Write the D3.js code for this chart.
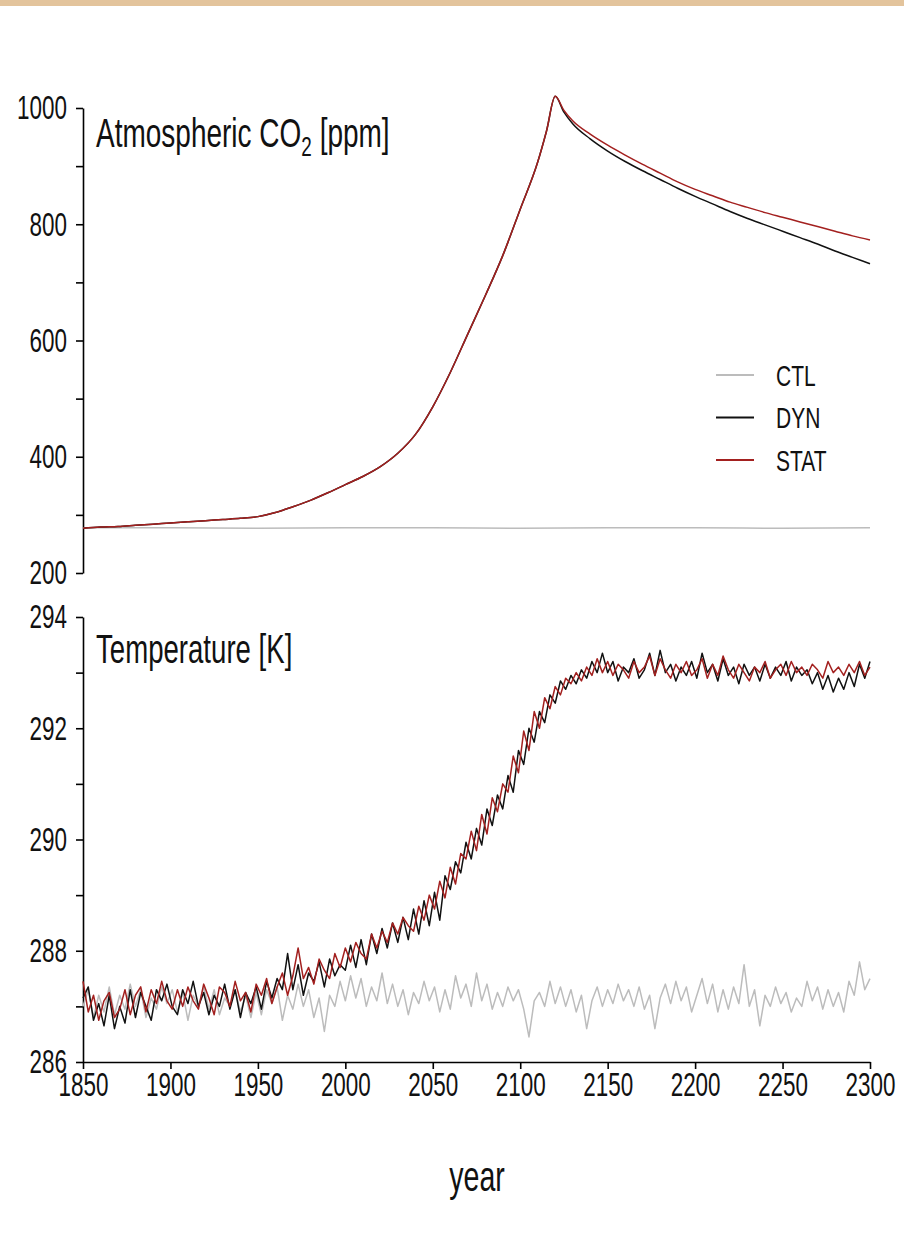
<!DOCTYPE html>
<html lang="en">
<head>
    <meta charset="UTF-8">
    <title>CO2 and Temperature</title>
    <script src="https://d3js.org/d3.v7.min.js"></script>
    <style>
        body { margin: 0; background: #fff; }
        text { font-family: "Liberation Sans", Arial, sans-serif; fill: #111; }
        .axis path, .axis line { stroke: #000; stroke-width: 1.6px; }
        .series { fill: none; stroke-width: 1.5px; stroke-linejoin: round; }
    </style>
</head>
<body>
<script>
    var width = 904, height = 1233;

    // series names / colours
    var seriesNames = ["CTL", "DYN", "STAT"];
    var seriesColors = ["#bcbcbc", "#111111", "#a3201f"];

    // atmospheric CO2 [ppm]
    var co2Years = [1850, 1860, 1870, 1880, 1890, 1900, 1910, 1920, 1930, 1940,
                    1950, 1960, 1970, 1980, 1990, 2000, 2010, 2020, 2030, 2040,
                    2050, 2060, 2070, 2080, 2090, 2100, 2110, 2115, 2120, 2125, 2130,
                    2140, 2150, 2160, 2170, 2180, 2190, 2200, 2210, 2220, 2230,
                    2240, 2250, 2260, 2270, 2280, 2290, 2300];
    var co2Dyn  = [277, 279, 280, 282, 284, 286, 288, 290, 292, 294,
                   297, 304, 314, 325, 338, 352, 366, 383, 406, 438,
                   486, 545, 611, 677, 746, 826, 907, 960, 1020, 993, 973,
                   947, 926, 908, 892, 877, 862, 848, 835, 822, 810,
                   799, 788, 777, 766, 754, 743, 732];
    var co2Stat = [277, 279, 280, 282, 284, 286, 288, 290, 292, 294,
                   297, 304, 314, 325, 338, 352, 366, 383, 406, 438,
                   486, 545, 611, 677, 746, 826, 907, 960, 1020, 996, 978,
                   955, 936, 919, 903, 888, 873, 860, 849, 838, 829,
                   820, 812, 804, 796, 788, 780, 773];
    var co2CtlYears = [1850, 1900, 1950, 2000, 2050, 2100, 2150, 2200, 2250, 2300];
    var co2Ctl = [278, 278, 277, 278, 278, 277, 278, 278, 277, 278];

    // temperature [K], every 3rd year 1850..2300
    var tempYears = d3.range(1850, 2301, 3);
    var tempCtl = [
        287.0, 287.3, 286.8, 287.2, 286.9, 287.35, 286.85, 287.2, 286.95, 287.4,
        287.0, 287.3, 286.8, 287.15, 286.95, 287.35, 287.05, 287.3, 286.9, 287.25,
        286.75, 287.2, 287.0, 287.35, 286.95, 287.3, 286.85, 287.15, 287.0, 287.3,
        286.9, 287.2, 286.8, 287.25, 286.85, 287.3, 287.05, 287.35, 286.75, 287.2,
        286.95, 287.4, 287.0, 287.3, 286.8, 287.15, 286.55, 287.2, 287.0, 287.45,
        287.1, 287.55, 287.15, 287.5, 287.0, 287.35, 287.1, 287.6, 287.05, 287.4,
        287.0, 287.3, 286.85, 287.25, 287.05, 287.45, 287.1, 287.35, 286.9, 287.3,
        286.95, 287.55, 287.15, 287.4, 287.0, 287.6, 287.1, 287.4, 286.95, 287.25,
        287.0, 287.35, 287.1, 287.3, 286.95, 286.45, 287.1, 287.25, 287.0, 287.45,
        287.05, 287.35, 287.0, 287.3, 286.9, 287.2, 286.6, 287.1, 287.35, 287.0,
        287.3, 287.05, 287.4, 287.1, 287.3, 287.0, 287.35, 286.95, 287.2, 286.6,
        287.15, 287.4, 287.05, 287.45, 287.1, 287.35, 286.9, 287.2, 287.5, 287.05,
        287.4, 286.9, 287.3, 286.95, 287.35, 287.05, 287.75, 287.0, 287.3, 286.65,
        287.2, 287.0, 287.35, 287.05, 287.25, 286.9, 287.15, 287.0, 287.45, 287.1,
        287.35, 286.95, 287.3, 287.0, 287.25, 286.9, 287.45, 287.2, 287.8, 287.3,
        287.5
    ];
    var tempDyn = [
        287.15, 287.35, 286.75, 287.05, 286.65, 287.2, 286.6, 287.0, 286.7, 287.3,
        286.8, 287.25, 287.0, 286.75, 287.3, 287.1, 287.4, 287.0, 286.85, 287.3,
        287.05, 287.45, 287.0, 287.25, 286.85, 287.2, 287.0, 287.4, 286.95, 287.3,
        286.8, 287.25, 287.05, 287.35, 286.95, 287.45, 287.15, 287.5, 287.3, 287.95,
        287.3, 287.75, 287.2, 287.6, 287.45, 287.8, 287.35, 287.85, 287.55, 287.75,
        287.65, 288.1, 287.7, 288.2, 287.75, 288.3, 287.95, 288.4, 288.05, 288.5,
        288.15, 288.6, 288.2, 288.75, 288.3, 288.9, 288.45, 289.05, 288.55, 289.35,
        289.1, 289.6, 289.4, 289.95, 289.65, 290.2, 289.9, 290.55, 290.25, 290.8,
        290.55, 291.15, 290.85, 291.6, 291.35, 292.0, 291.75, 292.3, 292.1, 292.6,
        292.45, 292.85, 292.7, 292.95, 292.8, 293.05, 292.9, 293.2, 293.0, 293.35,
        293.0, 293.2, 292.85, 293.1, 293.0, 293.25, 292.9, 293.05, 293.35, 292.95,
        293.4, 293.0, 293.15, 292.85, 293.1, 292.95, 293.2, 292.9, 293.35, 293.0,
        293.15, 292.85, 293.25, 292.95, 293.1, 292.8, 293.15, 292.95, 293.1, 292.85,
        293.15, 292.9, 293.1, 292.95, 293.2, 292.85, 293.1, 292.95, 293.05, 292.8,
        293.0, 292.7, 292.95, 292.65, 292.9, 292.7, 293.0, 292.75, 293.15, 292.9,
        293.2
    ];
    var tempStat = [
        287.45, 286.9, 287.2, 286.75, 287.1, 287.25, 286.8, 286.95, 287.3, 286.85,
        287.2, 287.35, 286.9, 287.3, 287.05, 287.45, 287.1, 286.95, 287.3, 287.0,
        287.35, 287.1, 286.95, 287.4, 287.15, 286.85, 287.35, 287.25, 287.0, 287.45,
        287.1, 287.25, 286.9, 287.4, 287.2, 287.5, 287.05, 287.35, 287.6, 287.2,
        287.55, 288.05, 287.5, 287.7, 287.4, 287.85, 287.65, 287.5, 287.95, 287.7,
        288.05, 287.8, 288.15, 287.95, 287.85, 288.3, 288.05, 288.35, 288.15, 288.5,
        288.3, 288.6, 288.45, 288.35, 288.8, 288.55, 289.0, 288.75, 289.25, 288.95,
        289.5, 289.2, 289.75, 289.65, 290.15, 289.8, 290.45, 290.1, 290.75, 290.5,
        291.0, 290.85, 291.5, 291.2, 291.95, 291.6, 292.3, 292.0, 292.55, 292.35,
        292.75, 292.6, 292.9, 292.8, 293.0, 292.85, 293.1, 292.95, 293.25, 293.0,
        293.2, 292.95, 293.15, 293.05, 292.9, 293.2, 293.0, 293.1, 293.3, 292.95,
        293.25, 293.05, 292.9, 293.15, 293.0, 293.2, 292.95, 293.05, 293.25, 292.9,
        293.15, 292.95, 293.3, 293.05, 292.9, 293.15, 293.0, 292.85, 293.1, 293.0,
        293.2, 292.9, 293.05, 293.15, 292.95, 293.2, 293.0, 293.1, 292.95, 293.15,
        293.05, 292.9, 293.2, 293.0, 293.1, 292.95, 293.15, 293.0, 293.2, 292.95,
        293.1
    ];

    // axis ticks
    var yearTicks = d3.range(1850, 2301, 50);
    var co2Ticks = d3.range(200, 1001, 100);
    var tempTicks = d3.range(286, 295, 1);

    var svg = d3.select("body").append("svg")
        .attr("width", width)
        .attr("height", height);

    svg.append("rect")
        .attr("x", 0).attr("y", 0)
        .attr("width", width).attr("height", 6)
        .attr("fill", "#e3c49c");

    var x = d3.scaleLinear().domain([1850, 2300]).range([83, 870]);
    var yCo2 = d3.scaleLinear().domain([200, 1000]).range([573, 108]);
    var yTemp = d3.scaleLinear().domain([286, 294]).range([1062, 617]);

    var sx = 0.66;  // squeeze text horizontally like the original

    function styleTicks(g) {
        g.selectAll(".tick text")
            .style("font-size", "34px")
            .attr("transform", "scale(" + sx + ",1)")
            .attr("x", function() { return +d3.select(this).attr("x") / sx; });
    }

    // top panel axis
    svg.append("g")
        .attr("class", "axis")
        .attr("transform", "translate(83,0)")
        .call(d3.axisLeft(yCo2).tickValues(co2Ticks).tickSize(7).tickSizeOuter(0).tickPadding(9)
            .tickFormat(function(d) { return d % 200 === 0 ? d : ""; }))
        .call(styleTicks);

    // bottom panel axis
    svg.append("g")
        .attr("class", "axis")
        .attr("transform", "translate(83,0)")
        .call(d3.axisLeft(yTemp).tickValues(tempTicks).tickSize(7).tickSizeOuter(0).tickPadding(9)
            .tickFormat(function(d) { return d % 2 === 0 ? d : ""; }))
        .call(styleTicks);

    svg.append("g")
        .attr("class", "axis")
        .attr("transform", "translate(0,1062)")
        .call(d3.axisBottom(x).tickValues(yearTicks).tickSize(7).tickSizeOuter(0).tickPadding(3)
            .tickFormat(d3.format("d")))
        .call(styleTicks);

    // lines
    function drawLine(years, values, yScale, color, curve) {
        var line = d3.line()
            .curve(curve || d3.curveLinear)
            .x(function(d, i) { return x(years[i]); })
            .y(function(d) { return yScale(d); });
        svg.append("path")
            .datum(values)
            .attr("class", "series")
            .attr("stroke", color)
            .attr("d", line);
    }

    drawLine(co2CtlYears, co2Ctl, yCo2, seriesColors[0], d3.curveMonotoneX);
    drawLine(co2Years, co2Dyn, yCo2, seriesColors[1], d3.curveMonotoneX);
    drawLine(co2Years, co2Stat, yCo2, seriesColors[2], d3.curveMonotoneX);

    drawLine(tempYears, tempCtl, yTemp, seriesColors[0]);
    drawLine(tempYears, tempDyn, yTemp, seriesColors[1]);
    drawLine(tempYears, tempStat, yTemp, seriesColors[2]);

    // panel titles
    var t1 = svg.append("text")
        .attr("transform", "translate(96,147) scale(0.7,1)")
        .style("font-size", "40px");
    t1.append("tspan").text("Atmospheric CO");
    t1.append("tspan").attr("dy", 9).style("font-size", "27px").text("2");
    t1.append("tspan").attr("dy", -9).text(" [ppm]");

    svg.append("text")
        .attr("transform", "translate(96,663) scale(0.69,1)")
        .style("font-size", "40px")
        .text("Temperature [K]");

    // legend
    var legend = svg.append("g").attr("transform", "translate(716,375)");
    seriesNames.forEach(function(name, i) {
        legend.append("line")
            .attr("x1", 0).attr("x2", 38)
            .attr("y1", i * 42.5).attr("y2", i * 42.5)
            .attr("stroke", seriesColors[i])
            .attr("stroke-width", 1.8);
        legend.append("text")
            .attr("transform", "translate(60," + (i * 42.5 + 10.5) + ") scale(0.7,1)")
            .style("font-size", "30px")
            .text(name);
    });

    // x axis title
    svg.append("text")
        .attr("transform", "translate(477,1191) scale(0.68,1)")
        .attr("text-anchor", "middle")
        .style("font-size", "42px")
        .text("year");
</script>
</body>
</html>
